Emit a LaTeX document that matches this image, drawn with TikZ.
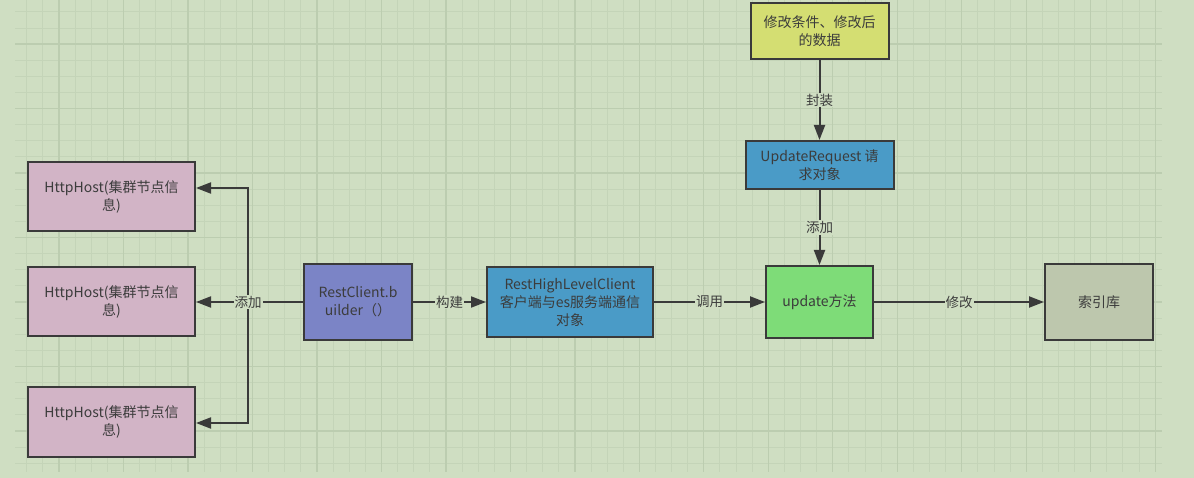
\documentclass[tikz,border=0pt]{standalone}
\usepackage{fontspec}
\setmainfont{Noto Sans CJK SC}
\usetikzlibrary{arrows.meta}
\definecolor{bg}{RGB}{207,222,194}
\definecolor{gminor}{RGB}{196,212,184}
\definecolor{gmajor}{RGB}{188,205,176}
\definecolor{edge}{RGB}{58,58,58}
\definecolor{txt}{RGB}{60,60,60}
\definecolor{pinkc}{RGB}{210,180,198}
\definecolor{purplec}{RGB}{123,132,198}
\definecolor{bluec}{RGB}{74,155,199}
\definecolor{greenc}{RGB}{126,220,120}
\definecolor{yellowc}{RGB}{212,222,114}
\definecolor{grayc}{RGB}{189,199,173}
\tikzset{
  box/.style={draw=edge, line width=2pt, inner sep=0pt, align=center,
    text=txt, font=\fontsize{14}{18}\selectfont},
  arr/.style={draw=edge, line width=2pt, -{Triangle[length=15pt,width=11pt]}},
  ln/.style={draw=edge, line width=2pt},
  lbl/.style={fill=bg, inner sep=1pt, text=txt, font=\fontsize{13.5}{15}\selectfont},
  gminorl/.style={draw=gminor, line width=1pt},
  gmajorl/.style={draw=gmajor, line width=1.3pt}
}
\begin{document}
\begin{tikzpicture}[x=1pt,y=-1pt]
\fill[bg] (0,0) rectangle (1194,478);
\useasboundingbox (0,0) rectangle (1194,478);
% grid
\foreach \i in {0,...,70} {\draw[gminorl] ({26.8+16.12*\i},0) -- ({26.8+16.12*\i},472);}
\foreach \j in {0,...,28} {\draw[gminorl] (15,{11.9+16.12*\j}) -- (1162,{11.9+16.12*\j});}
\foreach \i in {0,...,17} {\draw[gmajorl] ({59.04+64.48*\i},0) -- ({59.04+64.48*\i},472);}
\foreach \j in {0,...,6} {\draw[gmajorl] (15,{44.1+64.48*\j}) -- (1162,{44.1+64.48*\j});}
% nodes
\node[box, fill=pinkc, minimum width=167pt, minimum height=69pt] (h1) at (111.5,196.5) {HttpHost(集群节点信\\息)};
\node[box, fill=pinkc, minimum width=167pt, minimum height=69pt] (h2) at (111.5,301.5) {HttpHost(集群节点信\\息)};
\node[box, fill=pinkc, minimum width=167pt, minimum height=70pt] (h3) at (111.5,422) {HttpHost(集群节点信\\息)};
\node[box, fill=purplec, minimum width=108pt, minimum height=75pt] (rc) at (358,302) {RestClient.b\\uilder（）};
\node[box, fill=bluec, minimum width=166pt, minimum height=70pt] (rhlc) at (570,302) {RestHighLevelClient\\客户端与es服务端通信\\对象};
\node[box, fill=greenc, minimum width=107pt, minimum height=72pt] (upd) at (819.5,302) {update方法};
\node[box, fill=grayc, minimum width=108pt, minimum height=75pt] (idx) at (1099,302) {索引库};
\node[box, fill=bluec, minimum width=148pt, minimum height=48pt] (ureq) at (819.5,165) {UpdateRequest 请\\求对象};
\node[box, fill=yellowc, minimum width=138pt, minimum height=56pt] (top) at (819.5,31) {修改条件、修改后\\的数据};
% connectors
\coordinate (j) at (248,302);
\coordinate (t1) at (248,188);
\coordinate (t3) at (248,423);
\draw[ln] (rc.west) -- (j);
\draw[arr] (j) -- (t1) -- (t1 -| h1.east);
\draw[arr] (j) -- (t3) -- (t3 -| h3.east);
\draw[arr] (j) -- (j -| h2.east);
\node[lbl] (l0) at (j) {添加};
\draw[arr] (rc.east) -- node[lbl] (l1) {构建} (rhlc.west);
\draw[arr] (rhlc.east) -- node[lbl] (l2) {调用} (upd.west);
\draw[arr] (upd.east) -- node[lbl] (l3) {修改} (idx.west);
\draw[arr] (top.south) -- node[lbl] (l4) {封装} (ureq.north);
\draw[arr] (ureq.south) -- node[lbl] (l5) {添加} (upd.north);
\end{tikzpicture}
\end{document}
